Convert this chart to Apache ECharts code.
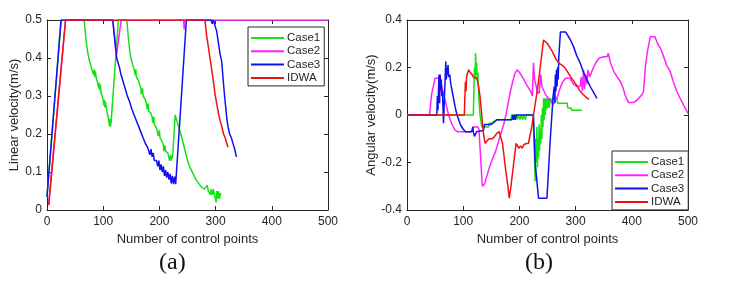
<!DOCTYPE html>
<html>
<head>
<meta charset="utf-8">
<script src="https://cdn.jsdelivr.net/npm/echarts@6/dist/echarts.min.js"></script>
<style>html,body{margin:0;padding:0;background:#fff;}#c{width:738px;height:294px;}</style>
</head>
<body>
<div id="c"></div>
<script>
var seriesNames = ['Case1', 'Case2', 'Case3', 'IDWA'];
var xTicks = [0, 100, 200, 300, 400, 500];
var linTicks = [0, 0.1, 0.2, 0.3, 0.4, 0.5];
var angTicks = [-0.4, -0.2, 0, 0.2, 0.4];

// (a) Linear velocity
var case1Lin = [[0,0.035],[25,0.5],[66,0.5],[70,0.44],[73,0.41],[76,0.39],[78,0.38],[80,0.37],[82,0.37],[83,0.355],[84,0.37],[85,0.35],[86,0.365],[88,0.345],[90,0.335],[92,0.32],[93,0.335],[94,0.315],[95,0.33],[96,0.31],[98,0.30],[100,0.29],[101,0.275],[102,0.29],[103,0.27],[104,0.285],[106,0.265],[108,0.25],[110,0.235],[111,0.22],[112,0.24],[113,0.22],[114,0.23],[127,0.5],[142,0.5],[145,0.45],[148,0.41],[151,0.39],[153,0.38],[155,0.37],[157,0.355],[158,0.37],[159,0.35],[161,0.345],[163,0.34],[165,0.33],[167,0.32],[168,0.305],[170,0.32],[171,0.30],[173,0.295],[175,0.29],[177,0.28],[178,0.265],[180,0.28],[181,0.26],[183,0.26],[185,0.255],[187,0.245],[188,0.23],[190,0.245],[191,0.225],[193,0.22],[195,0.215],[197,0.21],[198,0.195],[200,0.21],[201,0.19],[203,0.185],[205,0.18],[207,0.17],[208,0.155],[210,0.17],[211,0.155],[213,0.155],[215,0.15],[217,0.145],[218,0.13],[220,0.145],[221,0.13],[223,0.14],[224,0.15],[228,0.25],[232,0.23],[236,0.21],[240,0.19],[245,0.16],[250,0.13],[255,0.11],[260,0.095],[265,0.08],[270,0.07],[275,0.06],[280,0.055],[283,0.05],[285,0.065],[287,0.05],[289,0.055],[291,0.04],[292,0.055],[294,0.04],[296,0.055],[298,0.04],[300,0.045],[301,0.02],[302,0.05],[304,0.03],[305,0.05],[307,0.03],[309,0.045]];
var case2Lin = [[3,0.013],[33,0.5],[117,0.5],[124,0.41],[132,0.5],[243,0.5],[244,0.475],[245,0.5],[500,0.5]];
var case3Lin = [[0,0.035],[25,0.5],[117,0.5],[121,0.44],[124,0.40],[127,0.385],[129,0.375],[131,0.36],[133,0.355],[135,0.34],[137,0.335],[139,0.32],[141,0.315],[143,0.30],[145,0.30],[147,0.285],[149,0.28],[151,0.265],[153,0.26],[155,0.25],[157,0.245],[159,0.235],[161,0.235],[163,0.22],[165,0.22],[167,0.205],[169,0.2],[171,0.19],[173,0.185],[175,0.175],[177,0.17],[179,0.165],[181,0.16],[183,0.145],[185,0.16],[187,0.14],[189,0.15],[191,0.13],[193,0.135],[195,0.13],[197,0.115],[199,0.13],[201,0.105],[203,0.12],[205,0.1],[207,0.115],[209,0.09],[211,0.105],[213,0.085],[215,0.1],[217,0.08],[219,0.095],[221,0.07],[223,0.09],[225,0.068],[227,0.088],[229,0.068],[248,0.5],[292,0.5],[294,0.49],[296,0.5],[299,0.5],[302,0.47],[305,0.44],[308,0.41],[311,0.39],[313,0.35],[316,0.30],[318,0.27],[320,0.24],[322,0.22],[325,0.2],[328,0.19],[330,0.185],[332,0.17],[334,0.16],[336,0.155],[337,0.14]];
var idwaLin = [[3,0.013],[33,0.5],[281,0.5],[284,0.46],[287,0.43],[290,0.40],[293,0.37],[296,0.34],[299,0.305],[302,0.28],[305,0.255],[308,0.235],[311,0.22],[314,0.2],[317,0.19],[320,0.175],[322,0.165],[323,0.165]];

// (b) Angular velocity
var case1Ang = [[0,0],[118,0],[119,0.1],[120,0.2],[121,0.15],[122,0.26],[123,0.17],[124,0.22],[125,0.15],[126,0.18],[127,0.12],[128,0.06],[130,0.0],[133,-0.05],[145,-0.05],[146,-0.035],[150,-0.035],[160,-0.02],[185,-0.02],[186,0],[195,0],[196,-0.02],[197,0],[200,0],[201,-0.02],[202,0],[205,0],[206,-0.02],[207,0],[210,0],[211,-0.02],[212,0],[224,0],[226,-0.1],[228,-0.28],[229,-0.1],[230,-0.2],[231,-0.05],[232,-0.22],[233,-0.1],[234,-0.18],[235,-0.04],[236,-0.15],[237,-0.06],[238,-0.12],[239,0.0],[240,-0.1],[241,0.03],[242,-0.05],[243,0.07],[244,-0.02],[245,0.07],[246,0.0],[247,0.07],[248,0.02],[249,0.07],[250,0.03],[252,0.07],[253,0.03],[255,0.07],[258,0.05],[259,0.07],[267,0.07],[268,0.05],[285,0.05],[286,0.03],[292,0.03],[293,0.02],[311,0.02]];
var case2Ang = [[0,0],[40,0],[44,0.09],[50,0.155],[56,0.155],[62,0.12],[68,0.06],[74,0.0],[80,-0.04],[86,-0.065],[90,-0.07],[116,-0.07],[118,-0.05],[126,-0.05],[128,-0.06],[131,-0.18],[134,-0.30],[138,-0.29],[143,-0.25],[148,-0.21],[153,-0.18],[158,-0.15],[163,-0.11],[168,-0.07],[172,-0.04],[176,0.0],[180,0.05],[184,0.1],[188,0.14],[192,0.175],[196,0.19],[200,0.18],[204,0.165],[208,0.15],[212,0.13],[216,0.115],[220,0.1],[223,0.08],[225,0.22],[227,0.15],[230,0.12],[232,0.1],[235,0.09],[238,0.17],[240,0.12],[244,0.1],[248,0.08],[252,0.07],[256,0.06],[260,0.045],[264,0.06],[268,0.08],[272,0.11],[277,0.14],[282,0.155],[290,0.155],[296,0.13],[302,0.12],[308,0.12],[310,0.16],[312,0.1],[314,0.19],[316,0.11],[318,0.17],[320,0.13],[322,0.19],[325,0.16],[330,0.19],[336,0.22],[342,0.24],[350,0.245],[356,0.245],[358,0.26],[362,0.22],[368,0.183],[374,0.16],[380,0.14],[385,0.11],[388,0.084],[394,0.053],[403,0.053],[408,0.06],[412,0.07],[418,0.085],[421,0.1],[424,0.2],[428,0.27],[433,0.33],[441,0.33],[446,0.3],[451,0.28],[456,0.25],[462,0.21],[468,0.185],[474,0.14],[480,0.1],[486,0.07],[492,0.042],[496,0.025],[500,0.007]];
var case3Ang = [[0,0],[53,0],[54,0.08],[55,0.02],[56,0.1],[57,0.17],[58,0.05],[59,0.17],[60,0.1],[61,0.15],[62,0.08],[63,0.1],[65,-0.035],[67,0.1],[69,0.225],[70,0.15],[71,0.2],[72,0.17],[73,0.21],[74,0.16],[76,0.17],[78,0.13],[82,0.08],[86,0.03],[89,0],[95,-0.04],[100,-0.06],[104,-0.07],[115,-0.07],[117,-0.05],[118,-0.07],[120,-0.09],[122,-0.09],[124,-0.07],[136,-0.065],[138,-0.04],[150,-0.04],[160,-0.02],[187,-0.02],[188,0],[190,-0.02],[191,0],[193,-0.02],[194,0],[225,0],[228,-0.2],[234,-0.35],[249,-0.35],[255,-0.1],[260,0.08],[262,0.12],[263,0.05],[264,0.17],[265,0.1],[266,0.19],[267,0.12],[268,0.2],[269,0.15],[270,0.24],[273,0.35],[282,0.35],[290,0.32],[296,0.29],[302,0.25],[308,0.22],[314,0.18],[320,0.15],[326,0.12],[332,0.095],[338,0.07]];
var idwaAng = [[0,0],[102,0],[103,0.08],[104,0.14],[105,0.1],[106,0.16],[108,0.18],[110,0.19],[112,0.18],[114,0.185],[116,0.17],[118,0.16],[121,0.16],[124,0.155],[126,0.14],[128,0.11],[130,0.077],[133,0.0],[136,-0.077],[139,-0.12],[142,-0.11],[146,-0.1],[152,-0.1],[156,-0.09],[160,-0.077],[164,-0.07],[167,-0.075],[170,-0.12],[173,-0.18],[176,-0.24],[179,-0.29],[182,-0.35],[185,-0.3],[188,-0.24],[191,-0.18],[194,-0.12],[197,-0.125],[199,-0.14],[202,-0.13],[205,-0.14],[208,-0.125],[212,-0.12],[216,-0.12],[219,-0.115],[222,-0.05],[225,0.0],[229,0.06],[234,0.14],[238,0.22],[243,0.316],[250,0.3],[258,0.27],[265,0.235],[272,0.215],[279,0.205],[285,0.185],[290,0.165],[296,0.145],[302,0.125],[308,0.1],[314,0.085],[320,0.072],[324,0.066]];

var colors = ['#16e016', '#ff22ff', '#1010f0', '#f01010'];
var FONT = 'Liberation Sans';
var axisCol = '#262626';

function xAx(g, pos, showLab, name) {
  return {
    gridIndex: g, type: 'value', position: pos, min: xTicks[0], max: xTicks[xTicks.length - 1], interval: 100,
    axisLine: { show: true, onZero: false, lineStyle: { color: axisCol, width: 1 } },
    axisTick: { show: true, inside: true, length: 4, lineStyle: { color: axisCol } },
    axisLabel: { show: showLab, color: axisCol, fontFamily: FONT, fontSize: 12, margin: 6 },
    splitLine: { show: false },
    name: name || '', nameLocation: 'middle', nameGap: 21,
    nameTextStyle: { color: axisCol, fontFamily: FONT, fontSize: 13 }
  };
}
function yAx(g, pos, showLab, ticks, name, fmt, gap) {
  return {
    gridIndex: g, type: 'value', position: pos, min: ticks[0], max: ticks[ticks.length - 1], interval: ticks[1] - ticks[0],
    axisLine: { show: true, onZero: false, lineStyle: { color: axisCol, width: 1 } },
    axisTick: { show: true, inside: true, length: 4, lineStyle: { color: axisCol } },
    axisLabel: { show: showLab, color: axisCol, fontFamily: FONT, fontSize: 12, margin: 5, formatter: fmt },
    splitLine: { show: false },
    name: name || '', nameLocation: 'middle', nameGap: gap || 20, nameRotate: 90,
    nameTextStyle: { color: axisCol, fontFamily: FONT, fontSize: 13 }
  };
}
function linFmt(v) { return v === 0 ? '0' : v.toFixed(1); }
function angFmt(v) { return Math.abs(v) < 1e-9 ? '0' : v.toFixed(1); }

function mk(name, data, xi, yi, ci) {
  return {
    name: name, type: 'line', data: data, xAxisIndex: xi, yAxisIndex: yi,
    showSymbol: false, symbol: 'none', animation: false,
    lineStyle: { color: colors[ci], width: 1.5 }, itemStyle: { color: colors[ci] }
  };
}

var legendBase = {
  orient: 'vertical', icon: 'rect', itemWidth: 33, itemHeight: 2, itemGap: 1.3,
  backgroundColor: '#fff', borderColor: axisCol, borderWidth: 1, borderRadius: 0,
  padding: [5, 4, 2, 3], data: seriesNames,
  textStyle: { color: axisCol, fontFamily: FONT, fontSize: 11.5, lineHeight: 12, padding: [0, 0, 0, -2] }
};

var option = {
  backgroundColor: '#fff',
  animation: false,
  grid: [
    { left: 47, top: 20, width: 281, height: 190 },
    { left: 407, top: 20, width: 281, height: 190 }
  ],
  xAxis: [
    xAx(0, 'bottom', true, 'Number of control points'), xAx(0, 'top', false),
    xAx(1, 'bottom', true, 'Number of control points'), xAx(1, 'top', false)
  ],
  yAxis: [
    yAx(0, 'left', true, linTicks, 'Linear velocity(m/s)', linFmt, 19), yAx(0, 'right', false, linTicks),
    yAx(1, 'left', true, angTicks, 'Angular velocity(m/s)', angFmt, 17), yAx(1, 'right', false, angTicks)
  ],
  legend: [
    Object.assign({}, legendBase, { left: 248, top: 27 }),
    Object.assign({}, legendBase, { left: 612, top: 151 })
  ],
  series: [
    mk('Case1', case1Lin, 0, 0, 0), mk('Case2', case2Lin, 0, 0, 1), mk('Case3', case3Lin, 0, 0, 2), mk('IDWA', idwaLin, 0, 0, 3),
    mk('Case1', case1Ang, 2, 2, 0), mk('Case2', case2Ang, 2, 2, 1), mk('Case3', case3Ang, 2, 2, 2), mk('IDWA', idwaAng, 2, 2, 3)
  ],
  graphic: [
    { type: 'text', left: 159, top: 251, style: { text: '(a)', font: '24px "Liberation Serif"', fill: '#111' } },
    { type: 'text', left: 525, top: 251, style: { text: '(b)', font: '24px "Liberation Serif"', fill: '#111' } }
  ]
};
var chart = echarts.init(document.getElementById('c'), null, { renderer: 'canvas' });
chart.setOption(option);
</script>
</body>
</html>
